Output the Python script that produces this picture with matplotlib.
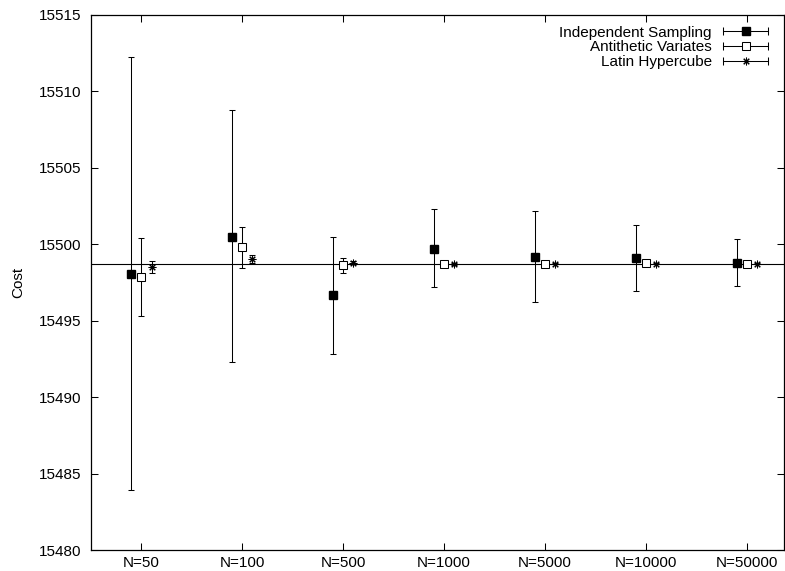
import numpy as np
import matplotlib
matplotlib.use("Agg")
import matplotlib.pyplot as plt
from matplotlib.lines import Line2D
from matplotlib.legend_handler import HandlerLine2D, HandlerTuple

plt.rcParams['font.family'] = ['Liberation Sans', 'DejaVu Sans']

# values
labels = ["N=50", "N=100", "N=500", "N=1000", "N=5000", "N=10000", "N=50000"]

indep_mean = [15498.06, 15500.50, 15496.65, 15499.69, 15499.19, 15499.13, 15498.80]
indep_low = [15483.93, 15492.30, 15492.81, 15497.21, 15496.24, 15496.97, 15497.28]
indep_high = [15512.27, 15508.80, 15500.46, 15502.28, 15502.19, 15501.28, 15500.37]

anti_mean = [15497.89, 15499.84, 15498.65, 15498.70, 15498.72, 15498.76, 15498.72]
anti_low = [15495.32, 15498.43, 15498.15, 15498.57, 15498.62, 15498.66, 15498.62]
anti_high = [15500.43, 15501.15, 15499.13, 15498.83, 15498.82, 15498.86, 15498.82]

latin_mean = [15498.54, 15499.02, 15498.80, 15498.72, 15498.74, 15498.72, 15498.72]
latin_low = [15498.15, 15498.76, 15498.72, 15498.67, 15498.69, 15498.68, 15498.68]
latin_high = [15498.91, 15499.28, 15498.88, 15498.77, 15498.79, 15498.76, 15498.76]

reference = 15498.7

x = np.arange(len(labels))

fig = plt.figure(figsize=(7.85, 5.71), dpi=100)
ax = fig.add_axes([91/785, 1 - 550/571, 693/785, 535/571])

ax.axhline(reference, color='black', lw=0.8, zorder=1)

def err(mean, low, high):
    mean = np.array(mean)
    return [mean - np.array(low), np.array(high) - mean]

common = dict(color='black', ecolor='black', elinewidth=0.75, capsize=2.5,
              capthick=0.75, linestyle='none', zorder=3)

style_indep = dict(marker='s', markersize=5.5, mfc='black', mec='black')
style_anti = dict(marker='s', markersize=5.2, mfc='white', mec='black', mew=0.75)
style_latin = dict(marker=(8, 2, 0), markersize=5.5, mec='black', mew=0.75)

ax.errorbar(x - 0.1, indep_mean, yerr=err(indep_mean, indep_low, indep_high),
            **style_indep, **common)
ax.errorbar(x, anti_mean, yerr=err(anti_mean, anti_low, anti_high),
            **style_anti, **common)
ax.errorbar(x + 0.1, latin_mean, yerr=err(latin_mean, latin_low, latin_high),
            **style_latin, **common)

ax.set_xlim(-0.5, 6.37)
ax.set_ylim(15480, 15515)
ax.set_yticks(np.arange(15480, 15516, 5))
ax.set_xticks(x)
ax.set_xticklabels(labels)
ax.set_ylabel("Cost", fontsize=11, labelpad=10)

ax.tick_params(direction='in', length=5, width=0.75, top=True, right=True,
               labelsize=11)
ax.tick_params(axis='x', pad=4)
ax.tick_params(axis='y', pad=7)
for s in ax.spines.values():
    s.set_linewidth(0.9)

# legend in gnuplot style: text on the left, line with caps and marker
handles = []
handler_map = {}
for kw in [style_indep, style_anti, style_latin]:
    bar = Line2D([], [], color='black', lw=0.75, marker='|', markersize=6,
                 mew=0.75)
    mk = Line2D([], [], color='black', linestyle='none', **kw)
    handler_map[bar] = HandlerLine2D(numpoints=2, marker_pad=0)
    handler_map[mk] = HandlerLine2D(numpoints=1)
    handles.append((bar, mk))
handler_map[tuple] = HandlerTuple(ndivide=1)

ax.legend(handles, ["Independent Sampling", "Antithetic Variates", "Latin Hypercube"],
          handler_map=handler_map, loc='upper right', frameon=False,
          markerfirst=False, fontsize=11, handlelength=3.0, handletextpad=0.7,
          labelspacing=0.05, borderaxespad=0.3, bbox_to_anchor=(0.993, 1.0))

fig.savefig("out.png", dpi=100)
